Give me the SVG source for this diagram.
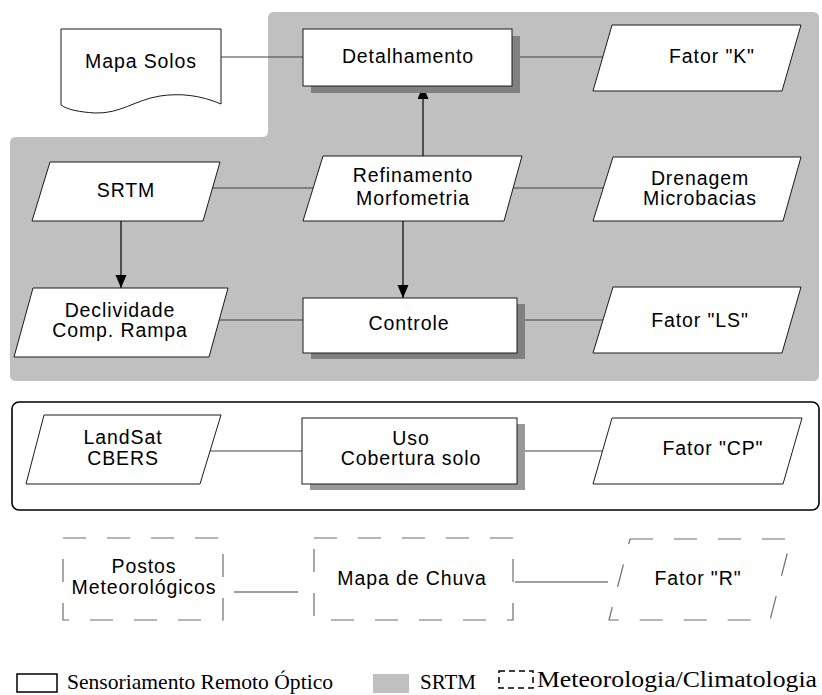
<svg xmlns="http://www.w3.org/2000/svg" width="822" height="695" viewBox="0 0 822 695">
<defs>
<marker id="arr" markerUnits="userSpaceOnUse" markerWidth="14" markerHeight="12" refX="13" refY="5.5" orient="auto">
<path d="M0,0 L13,5.5 L0,11 Z" fill="#000"/>
</marker>
<style>
.t{font-family:"Liberation Sans",Arial,sans-serif;font-size:19.5px;letter-spacing:0.9px;text-anchor:middle;fill:#000}
.n{fill:#fff;stroke:#1a1a1a;stroke-width:1}
.d{fill:none;stroke:#6e6e6e;stroke-width:1.2;stroke-dasharray:23 21}
.sh{fill:#808080}
.c{stroke:#404040;stroke-width:1.2;fill:none}
.a{stroke:#000;stroke-width:1.2;fill:none;marker-end:url(#arr)}
.lg{font-family:"Liberation Serif","Times New Roman",serif;fill:#000}
</style>
</defs>
<rect width="822" height="695" fill="#fff"/>
<g id="srtm-area">
<path d="M274,12 H813 Q819,12 819,18 V375 Q819,381 813,381 H16 Q10,381 10,375 V143 Q10,137 16,137 H262 Q268,137 268,131 V18 Q268,12 274,12 Z" fill="#c0c0c0"/>
</g>
<g id="optico-area">
<rect x="12" y="402" width="807" height="108" rx="7" fill="none" stroke="#000" stroke-width="1.6"/>
</g>
<g id="connectors">
<line class="c" x1="221" y1="57" x2="303" y2="57"/>
<line class="c" x1="512" y1="57" x2="603" y2="57"/>
<line class="a" x1="423" y1="156" x2="423" y2="86"/>
<line class="c" x1="212" y1="188" x2="313" y2="188"/>
<line class="c" x1="513" y1="188" x2="603" y2="188"/>
<line class="a" x1="121" y1="221" x2="121" y2="288"/>
<line class="a" x1="403" y1="221" x2="403" y2="298"/>
<line class="c" x1="219" y1="320" x2="303" y2="320"/>
<line class="c" x1="517" y1="320" x2="603" y2="320"/>
<line class="c" x1="210" y1="451" x2="302" y2="451"/>
<line class="c" x1="517" y1="451" x2="602" y2="451"/>
<line class="c" x1="234" y1="592" x2="298" y2="592"/>
<line class="c" x1="515" y1="582" x2="608" y2="582"/>
</g>
<g id="mapa-solos">
<path class="n" d="M61,29 H221 V104 C200,95 180,93 160,96 C135,100 120,114 95,113 C80,112 68,110 61,105 Z"/>
<text class="t" x="141" y="68">Mapa Solos</text>
</g>
<g id="detalhamento">
<rect class="sh" x="311" y="36" width="209" height="57"/>
<rect class="n" x="303" y="29" width="209" height="57"/>
<text class="t" x="408" y="63">Detalhamento</text>
</g>
<g id="fator-k">
<path class="n" d="M612,25 H801 L782,91 H593 Z"/>
<text class="t" x="712" y="63">Fator "K"</text>
</g>
<g id="srtm">
<path class="n" d="M50,162 H220 L203,221 H32 Z"/>
<text class="t" x="126" y="197">SRTM</text>
</g>
<g id="refinamento">
<path class="n" d="M323,156 H522 L504,221 H303 Z"/>
<text class="t" x="413" y="182">Refinamento</text>
<text class="t" x="413" y="205">Morfometria</text>
</g>
<g id="drenagem">
<path class="n" d="M613,157 H801 L783,221 H593 Z"/>
<text class="t" x="700" y="185">Drenagem</text>
<text class="t" x="700" y="205">Microbacias</text>
</g>
<g id="declividade">
<path class="n" d="M33,288 H228 L209,357 H14 Z"/>
<text class="t" x="120" y="317">Declividade</text>
<text class="t" x="120" y="337">Comp. Rampa</text>
</g>
<g id="controle">
<rect class="sh" x="311" y="304" width="214" height="55"/>
<rect class="n" x="303" y="298" width="214" height="55"/>
<text class="t" x="409" y="330">Controle</text>
</g>
<g id="fator-ls">
<path class="n" d="M613,287 H801 L782,353 H593 Z"/>
<text class="t" x="700" y="327">Fator "LS"</text>
</g>
<g id="landsat">
<path class="n" d="M44,415 H221 L200,484 H26 Z"/>
<text class="t" x="123" y="444">LandSat</text>
<text class="t" x="123" y="465">CBERS</text>
</g>
<g id="uso">
<rect x="310" y="424" width="215" height="66" fill="#999"/>
<rect class="n" x="302" y="418" width="215" height="66"/>
<text class="t" x="411" y="445">Uso</text>
<text class="t" x="411" y="465">Cobertura solo</text>
</g>
<g id="fator-cp">
<path class="n" d="M612,418 H802 L783,484 H593 Z"/>
<text class="t" x="713" y="455">Fator "CP"</text>
</g>
<g id="postos">
<rect class="d" x="63" y="538" width="160" height="82"/>
<text class="t" x="144" y="573">Postos</text>
<text class="t" x="144" y="594">Meteorológicos</text>
</g>
<g id="mapa-chuva">
<rect class="d" x="314" y="538" width="199" height="82"/>
<text class="t" x="412" y="585">Mapa de Chuva</text>
</g>
<g id="fator-r">
<path class="d" d="M630,539 H791 L770,620 H609 Z"/>
<text class="t" x="698" y="585">Fator "R"</text>
</g>
<g id="legend">
<rect x="17" y="674" width="40" height="18" fill="#fff" stroke="#000" stroke-width="1.5"/>
<text class="lg" x="67" y="689" font-size="22" textLength="266" lengthAdjust="spacingAndGlyphs">Sensoriamento Remoto Óptico</text>
<rect x="373" y="674" width="36" height="19" fill="#c0c0c0"/>
<text class="lg" x="420" y="689" font-size="22" textLength="56" lengthAdjust="spacingAndGlyphs">SRTM</text>
<rect x="499" y="671" width="34" height="17" fill="none" stroke="#000" stroke-width="1.5" stroke-dasharray="6 4"/>
<text class="lg" x="537" y="687" font-size="24" textLength="280" lengthAdjust="spacingAndGlyphs">Meteorologia/Climatologia</text>
</g>
</svg>
